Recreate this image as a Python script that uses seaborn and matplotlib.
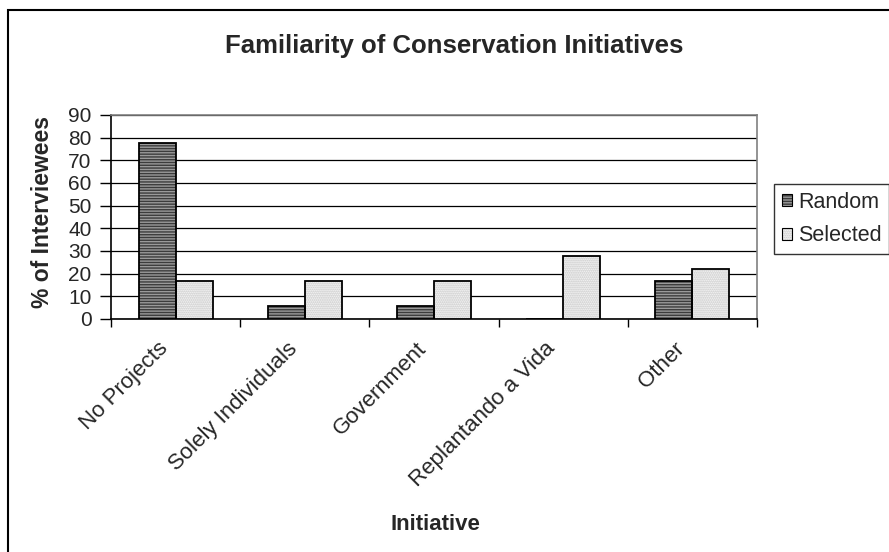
import matplotlib
matplotlib.use("Agg")
import matplotlib.pyplot as plt
from matplotlib.patches import Rectangle, Patch
from matplotlib.ticker import FixedLocator
from matplotlib.transforms import ScaledTranslation
import numpy as np
import pandas as pd
import seaborn as sns

# Survey results: share of interviewees familiar with each kind of initiative
initiatives = ["No Projects", "Solely Individuals", "Government",
               "Replantando a Vida", "Other"]
random_pct = [77.8, 5.6, 5.6, 0.0, 16.7]
selected_pct = [16.7, 16.7, 16.7, 27.8, 22.2]
groups = ["Random", "Selected"]
y_ticks = [0, 10, 20, 30, 40, 50, 60, 70, 80, 90]

df = pd.DataFrame({
    "Initiative": initiatives * 2,
    "Percent": random_pct + selected_pct,
    "Group": [groups[0]] * len(initiatives) + [groups[1]] * len(initiatives),
})

sns.set_style("white")
plt.rcParams["font.family"] = ["Liberation Sans", "DejaVu Sans"]
plt.rcParams["hatch.linewidth"] = 1.0

W, H = 889, 552
fig = plt.figure(figsize=(W / 100, H / 100), dpi=100)
ax = fig.add_axes([111 / W, 1 - 319 / H, (757 - 111) / W, (319 - 115) / H])

sns.barplot(data=df, x="Initiative", y="Percent", hue="Group",
            palette=["#9a9a9a", "#ffffff"], width=0.574, ax=ax,
            legend=False, zorder=3, linewidth=0)

fills = {"Random": dict(fc="#9a9a9a", hatch="------", hc="#3c3c3c"),
         "Selected": dict(fc="#ffffff", hatch="........", hc="#bdbdbd")}

for cont, g in zip(ax.containers, groups):
    st = fills[g]
    for bar in cont:
        bar.set_facecolor(st["fc"])
        bar.set_hatch(st["hatch"])
        bar.set_edgecolor(st["hc"])
        bar.set_linewidth(0)
        # crisp black outline on top of the hatched fill
        ax.add_patch(Rectangle(bar.get_xy(), bar.get_width(), bar.get_height(),
                               fill=False, ec="black", lw=1.3, zorder=4))

ax.set_ylim(0, 90)
ax.set_xlim(-0.5, len(initiatives) - 0.5)
ax.set_yticks(y_ticks)
ax.set_yticklabels([str(v) for v in y_ticks], fontsize=15)
ax.yaxis.grid(True, color="black", lw=0.9, zorder=0)
ax.xaxis.grid(False)
ax.set_axisbelow(True)

# category boundaries get the x tick marks
ax.xaxis.set_minor_locator(FixedLocator(np.arange(-0.5, len(initiatives), 1.0)))
ax.tick_params(axis="x", which="minor", length=6, width=1, color="black",
               direction="out", bottom=True)
ax.tick_params(axis="x", which="major", length=0, pad=19)
ax.tick_params(axis="y", which="major", length=8, width=1, color="black",
               direction="out", left=True, pad=6)
ax.set_xticks(range(len(initiatives)))
ax.set_xticklabels(initiatives, rotation=45, ha="right", va="center",
                   rotation_mode="anchor", fontsize=16)
shift = ScaledTranslation(-11 / 100, 0, fig.dpi_scale_trans)
for lab in ax.get_xticklabels():
    lab.set_transform(lab.get_transform() + shift)

ax.set_xlabel("")
ax.set_ylabel("")
for side in ("left", "bottom"):
    ax.spines[side].set_color("black")
    ax.spines[side].set_linewidth(1.2)
for side in ("top", "right"):
    ax.spines[side].set_visible(True)
    ax.spines[side].set_color("#808080")
    ax.spines[side].set_linewidth(1.2)

fig.text(454 / W, 1 - 53 / H, "Familiarity of Conservation Initiatives",
         ha="center", va="baseline", fontsize=18.5, fontweight="bold")
fig.text(43 / W, 1 - 212 / H, "% of Interviewees", rotation=90,
         ha="center", va="center", fontsize=16.5, fontweight="bold")
fig.text(435 / W, 1 - 530 / H, "Initiative", ha="center", va="baseline",
         fontsize=16, fontweight="bold")

handles = [Patch(facecolor=fills[g]["fc"], hatch=fills[g]["hatch"],
                 edgecolor="black", lw=0.8) for g in groups]
for h, g in zip(handles, groups):
    h._hatch_color = matplotlib.colors.to_rgba(fills[g]["hc"])
leg = fig.legend(handles, groups, loc="upper left",
                 bbox_to_anchor=(774 / W, 1 - 184 / H),
                 fontsize=15.5, frameon=True, fancybox=False,
                 edgecolor="black", handlelength=0.47, handleheight=0.47,
                 handletextpad=0.3, borderpad=0.35, labelspacing=0.6,
                 borderaxespad=0)
leg.get_frame().set_linewidth(1.0)

# chart-area border
fig.patches.append(Rectangle((8 / W, -0.1), 1.2, 1 - 10 / H + 0.1,
                             transform=fig.transFigure, fill=False,
                             ec="black", lw=1.5, clip_on=False))

fig.savefig("out.png", dpi=100, facecolor="white")
